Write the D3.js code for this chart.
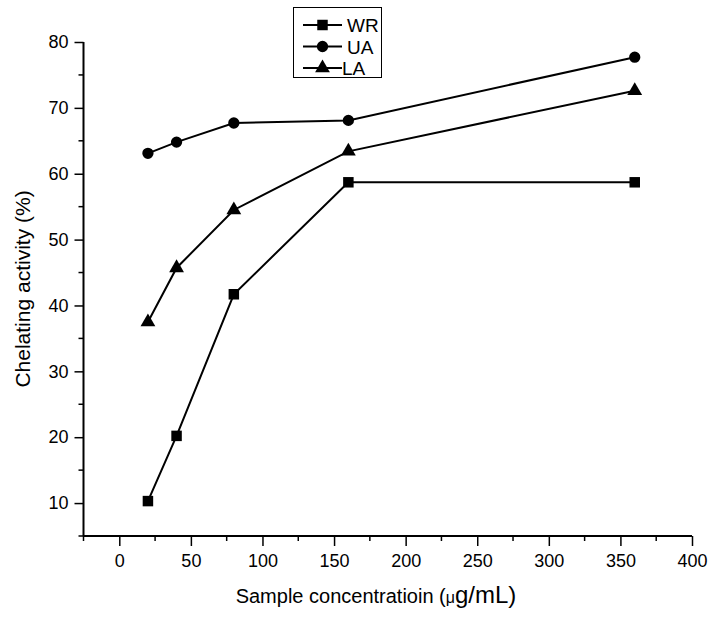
<!DOCTYPE html>
<html><head><meta charset="utf-8">
<script src="https://cdn.jsdelivr.net/npm/d3@7"></script>
<style>body{margin:0;background:#fff;} svg text{font-family:"Liberation Sans",Arial,sans-serif;} .tick text{font-size:18px;}</style>
</head><body>
<svg id="c" width="710" height="618"></svg>
<script>
const concentrations = [20, 40, 80, 160, 360];
const WR = [10.3, 20.2, 41.7, 58.7, 58.7];
const UA = [63.1, 64.8, 67.7, 68.1, 77.7];
const LA = [37.5, 45.7, 54.5, 63.4, 72.6];
const seriesNames = ["WR", "UA", "LA"];
const xTicks = [0, 50, 100, 150, 200, 250, 300, 350, 400];
const yTicks = [10, 20, 30, 40, 50, 60, 70, 80];

const svg = d3.select("#c");
const x = d3.scaleLinear().domain([-25, 400]).range([83.5, 692]);
const y = d3.scaleLinear().domain([5, 80]).range([536, 42]);

const series = [
  {name: seriesNames[0], values: WR, sym: d3.symbolSquare, size: 110},
  {name: seriesNames[1], values: UA, sym: d3.symbolCircle, size: 100},
  {name: seriesNames[2], values: LA, sym: d3.symbolTriangle, size: 95}
];

// axes
const xAxis = d3.axisBottom(x).tickValues(xTicks).tickSize(10).tickPadding(8).tickFormat(d3.format("d"));
const gx = svg.append("g").attr("transform", "translate(0,536)").call(xAxis);
const xMinor = d3.range(-25, 401, 50);
gx.selectAll(".minor").data(xMinor).enter().append("line").attr("class","minor")
  .attr("x1", d => x(d)).attr("x2", d => x(d)).attr("y1", 0).attr("y2", 5).attr("stroke","#000").attr("stroke-width",1.5);

const yAxis = d3.axisLeft(y).tickValues(yTicks).tickSize(9).tickPadding(6);
const gy = svg.append("g").attr("transform", "translate(83.5,0)").call(yAxis);
const yMinor = d3.range(5, 80, 10);
gy.selectAll(".minor").data(yMinor).enter().append("line").attr("class","minor")
  .attr("x1", 0).attr("x2", -5).attr("y1", d => y(d)).attr("y2", d => y(d)).attr("stroke","#000").attr("stroke-width",1.5);

[gx, gy].forEach(g => {
  g.attr("font-size", 18).attr("font-family", "Liberation Sans, Arial, sans-serif");
  g.select(".domain").attr("stroke","#000").attr("stroke-width",2);
  g.selectAll(".tick line").attr("stroke","#000").attr("stroke-width",1.5);
  g.selectAll(".tick text").attr("font-size", 18).attr("fill","#000");
});
gx.select(".domain").attr("d", `M${x(-25)},0H${x(400)}`);
gy.select(".domain").attr("d", `M0,${y(5)}V${y(80)}`);

// lines and markers
const line = d3.line().x(d => x(d[0])).y(d => y(d[1]));
series.forEach(s => {
  const pts = concentrations.map((c, i) => [c, s.values[i]]);
  svg.append("path").attr("d", line(pts)).attr("fill","none").attr("stroke","#000").attr("stroke-width",2);
  svg.selectAll(null).data(pts).enter().append("path")
    .attr("d", d3.symbol().type(s.sym).size(s.size))
    .attr("transform", d => `translate(${x(d[0])},${y(d[1])})`)
    .attr("fill","#000");
});

// legend
const lg = svg.append("g");
lg.append("rect").attr("x",293.5).attr("y",7.5).attr("width",88).attr("height",70).attr("fill","#fff").attr("stroke","#000").attr("stroke-width",1);
series.forEach((s, i) => {
  const cy = 25 + i * 21.5;
  lg.append("line").attr("x1",303).attr("x2",342).attr("y1",cy).attr("y2",cy).attr("stroke","#000").attr("stroke-width",2);
  lg.append("path").attr("d", d3.symbol().type(s.sym).size(s.size)).attr("transform",`translate(322.5,${cy})`).attr("fill","#000");
  lg.append("text").attr("x", s.name === "LA" ? 342 : 347).attr("y", cy + 7).attr("font-size",19).text(s.name);
});

// titles
const xt = svg.append("text").attr("x",376).attr("y",603).attr("text-anchor","middle").attr("font-size",20);
xt.append("tspan").text("Sample concentratioin (");
xt.append("tspan").attr("font-size",16).text("μ");
xt.append("tspan").attr("font-size",24).text("g/mL)");

svg.append("text").attr("transform","translate(30,289) rotate(-90)").attr("text-anchor","middle").attr("font-size",21).text("Chelating activity (%)");
</script>
</body></html>
